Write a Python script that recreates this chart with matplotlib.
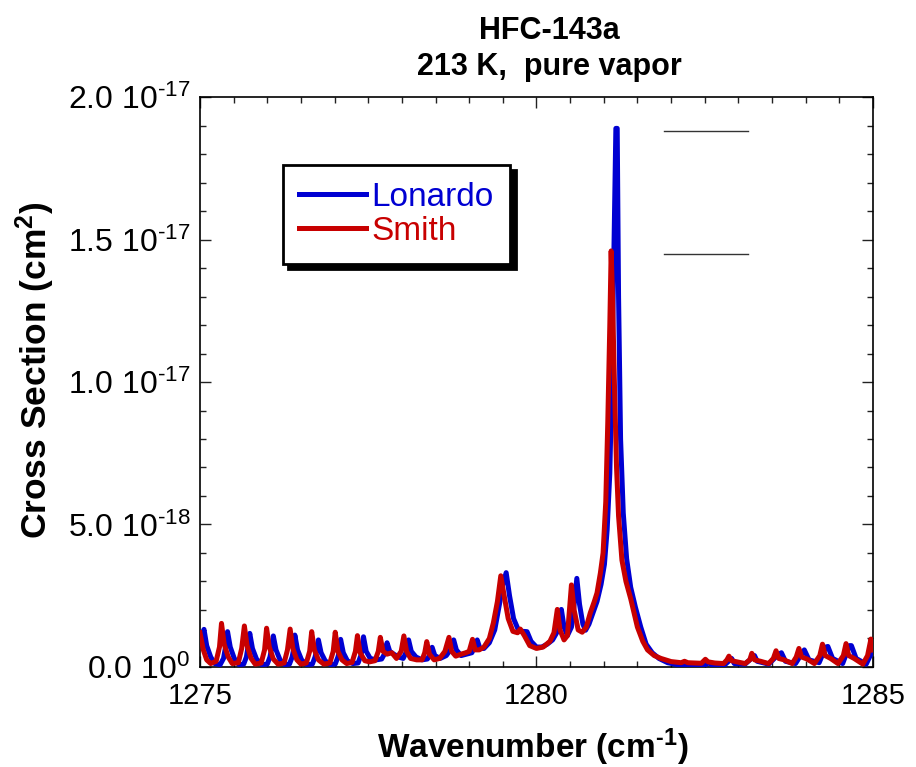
import numpy as np
import matplotlib
matplotlib.use("Agg")
import matplotlib.pyplot as plt
from matplotlib.ticker import MultipleLocator, FixedLocator, FixedFormatter

# ---------------- data (cross section in units of 1e-18 cm^2) ----------------
lonardo_x = [
    1275.00, 1275.03, 1275.06, 1275.10, 1275.16, 1275.22, 1275.30, 1275.35, 1275.38, 1275.41,
    1275.45, 1275.51, 1275.58, 1275.65, 1275.69, 1275.71, 1275.74, 1275.78, 1275.84, 1275.92,
    1276.00, 1276.04, 1276.06, 1276.09, 1276.13, 1276.19, 1276.26, 1276.33, 1276.37, 1276.39,
    1276.41, 1276.45, 1276.51, 1276.59, 1276.67, 1276.71, 1276.73, 1276.76, 1276.80, 1276.86,
    1276.94, 1277.01, 1277.05, 1277.07, 1277.09, 1277.13, 1277.19, 1277.27, 1277.35, 1277.39,
    1277.41, 1277.43, 1277.47, 1277.53, 1277.62, 1277.70, 1277.74, 1277.78, 1277.82, 1277.88,
    1277.95, 1278.02, 1278.06, 1278.10, 1278.14, 1278.21, 1278.30, 1278.38, 1278.42, 1278.45,
    1278.49, 1278.57, 1278.66, 1278.72, 1278.77, 1278.81, 1278.88, 1278.96, 1279.04, 1279.08,
    1279.12, 1279.16, 1279.22, 1279.30, 1279.38, 1279.45, 1279.50, 1279.55, 1279.60, 1279.66,
    1279.74, 1279.80, 1279.86, 1279.92, 1280.00, 1280.08, 1280.16, 1280.24, 1280.30, 1280.34,
    1280.37, 1280.41, 1280.46, 1280.52, 1280.56, 1280.60, 1280.64, 1280.69, 1280.73, 1280.78,
    1280.84, 1280.90, 1280.96, 1281.01, 1281.05, 1281.09, 1281.12, 1281.15, 1281.18, 1281.20,
    1281.22, 1281.25, 1281.29, 1281.34, 1281.40, 1281.47, 1281.55, 1281.63, 1281.72, 1281.82,
    1281.95, 1282.10, 1282.30, 1282.50, 1282.56, 1282.60, 1282.80, 1282.90, 1282.94, 1283.10,
    1283.24, 1283.28, 1283.45, 1283.60, 1283.64, 1283.70, 1283.85, 1283.95, 1283.98, 1284.05,
    1284.20, 1284.30, 1284.33, 1284.40, 1284.55, 1284.65, 1284.68, 1284.75, 1284.90, 1285.00,
]
lonardo_y = [
    0.90, 1.10, 1.32, 0.75, 0.35, 0.12, 0.08, 0.30, 0.70, 1.24,
    0.70, 0.30, 0.08, 0.10, 0.35, 0.65, 1.18, 0.65, 0.28, 0.08,
    0.10, 0.35, 0.60, 1.09, 0.60, 0.25, 0.08, 0.10, 0.35, 0.60,
    1.12, 0.60, 0.25, 0.08, 0.10, 0.35, 0.55, 0.95, 0.50, 0.22,
    0.08, 0.10, 0.35, 0.55, 0.97, 0.50, 0.22, 0.12, 0.14, 0.40,
    0.60, 1.06, 0.55, 0.30, 0.25, 0.28, 0.45, 0.85, 0.55, 0.45,
    0.35, 0.30, 0.50, 0.95, 0.55, 0.35, 0.25, 0.28, 0.45, 0.69,
    0.40, 0.30, 0.40, 0.60, 0.95, 0.60, 0.40, 0.45, 0.50, 0.70,
    0.95, 0.65, 0.65, 0.85, 1.30, 2.20, 2.90, 3.31, 2.50, 1.70,
    1.25, 1.25, 1.24, 0.90, 0.70, 0.70, 0.80, 0.95, 1.20, 1.70,
    2.02, 1.40, 1.10, 1.40, 2.20, 3.11, 2.20, 1.50, 1.29, 1.50,
    1.90, 2.30, 2.90, 3.60, 4.80, 6.80, 10.0, 14.5, 18.9, 18.9,
    13.0, 8.00, 5.40, 3.80, 2.80, 2.10, 1.40, 0.80, 0.50, 0.30,
    0.15, 0.08, 0.06, 0.06, 0.15, 0.08, 0.08, 0.30, 0.12, 0.10,
    0.40, 0.20, 0.10, 0.45, 0.50, 0.20, 0.12, 0.50, 0.60, 0.25,
    0.15, 0.70, 0.72, 0.30, 0.12, 0.75, 0.75, 0.30, 0.10, 0.60,
]

smith_x = [
    1275.00, 1275.05, 1275.10, 1275.16, 1275.24, 1275.29, 1275.32, 1275.36, 1275.42, 1275.48,
    1275.57, 1275.62, 1275.66, 1275.70, 1275.76, 1275.82, 1275.91, 1275.96, 1275.99, 1276.03,
    1276.09, 1276.16, 1276.25, 1276.30, 1276.34, 1276.38, 1276.44, 1276.50, 1276.58, 1276.63,
    1276.66, 1276.70, 1276.76, 1276.84, 1276.93, 1276.98, 1277.01, 1277.05, 1277.11, 1277.18,
    1277.26, 1277.31, 1277.34, 1277.38, 1277.45, 1277.52, 1277.60, 1277.65, 1277.68, 1277.72,
    1277.78, 1277.85, 1277.92, 1277.99, 1278.03, 1278.07, 1278.13, 1278.22, 1278.30, 1278.34,
    1278.37, 1278.41, 1278.48, 1278.56, 1278.64, 1278.70, 1278.74, 1278.80, 1278.88, 1278.95,
    1279.00, 1279.05, 1279.09, 1279.15, 1279.22, 1279.30, 1279.36, 1279.42, 1279.47, 1279.52,
    1279.58, 1279.65, 1279.72, 1279.76, 1279.82, 1279.90, 1280.00, 1280.10, 1280.20, 1280.26,
    1280.31, 1280.35, 1280.41, 1280.46, 1280.52, 1280.56, 1280.62, 1280.68, 1280.74, 1280.80,
    1280.86, 1280.90, 1280.95, 1280.99, 1281.03, 1281.06, 1281.09, 1281.11, 1281.13, 1281.16,
    1281.19, 1281.22, 1281.27, 1281.33, 1281.40, 1281.50, 1281.58, 1281.65, 1281.75, 1281.85,
    1282.00, 1282.15, 1282.20, 1282.25, 1282.45, 1282.51, 1282.55, 1282.65, 1282.78, 1282.83,
    1282.86, 1282.90, 1282.98, 1283.10, 1283.17, 1283.20, 1283.24, 1283.33, 1283.45, 1283.52,
    1283.56, 1283.60, 1283.68, 1283.80, 1283.86, 1283.90, 1283.94, 1284.02, 1284.13, 1284.21,
    1284.25, 1284.29, 1284.37, 1284.48, 1284.56, 1284.60, 1284.64, 1284.72, 1284.85, 1284.92,
    1284.97, 1285.00,
]
smith_y = [
    1.20, 0.60, 0.25, 0.12, 0.20, 0.70, 1.53, 0.80, 0.35, 0.12,
    0.15, 0.65, 1.44, 0.75, 0.30, 0.10, 0.14, 0.60, 1.36, 0.70,
    0.28, 0.10, 0.14, 0.60, 1.33, 0.65, 0.25, 0.10, 0.14, 0.55,
    1.24, 0.60, 0.25, 0.10, 0.14, 0.55, 1.22, 0.55, 0.25, 0.12,
    0.16, 0.55, 1.10, 0.50, 0.22, 0.18, 0.22, 0.55, 1.04, 0.55,
    0.45, 0.50, 0.30, 0.55, 1.09, 0.55, 0.30, 0.25, 0.25, 0.50,
    0.89, 0.45, 0.25, 0.30, 0.55, 1.04, 0.55, 0.38, 0.45, 0.50,
    0.55, 0.97, 0.60, 0.60, 0.70, 1.00, 1.55, 2.30, 3.20, 2.50,
    1.70, 1.25, 1.20, 1.33, 1.10, 0.75, 0.65, 0.70, 0.90, 1.20,
    2.02, 1.30, 0.95, 1.10, 2.88, 2.00, 1.30, 1.22, 1.40, 1.90,
    2.30, 2.60, 3.30, 4.00, 5.80, 8.60, 12.0, 14.6, 13.0, 9.80,
    7.00, 5.30, 3.75, 3.00, 2.40, 1.40, 0.90, 0.60, 0.40, 0.30,
    0.19, 0.15, 0.20, 0.15, 0.13, 0.27, 0.18, 0.14, 0.12, 0.25,
    0.38, 0.22, 0.18, 0.12, 0.25, 0.48, 0.25, 0.20, 0.12, 0.30,
    0.57, 0.30, 0.25, 0.12, 0.35, 0.65, 0.35, 0.28, 0.12, 0.40,
    0.80, 0.40, 0.30, 0.12, 0.40, 0.82, 0.40, 0.30, 0.10, 0.40,
    0.98, 0.60,
]

series_names = ["Lonardo", "Smith"]
series_colors = ["#0000d2", "#c80000"]

# two short reference lines drawn in the upper right of the plot
ref_line_x = [1281.90, 1283.15]
ref_line_levels = [18.8, 14.5]

HY = "\u2010"  # typographic hyphen for the exponents, as in the original
x_tick_values = [1275, 1280, 1285]
x_tick_labels = ["1275", "1280", "1285"]
y_tick_values = [0.0, 5.0e-18, 1.0e-17, 1.5e-17, 2.0e-17]
y_tick_labels = [r"0.0 10$^{0}$", r"5.0 10$^{" + HY + "18}$", r"1.0 10$^{" + HY + "17}$",
                 r"1.5 10$^{" + HY + "17}$", r"2.0 10$^{" + HY + "17}$"]
title_text = "HFC-143a\n213 K,  pure vapor"
scale = 1e-18

# ---------------- styling ----------------
plt.rcParams['font.family'] = ['Liberation Sans', 'DejaVu Sans']
plt.rcParams['mathtext.fontset'] = 'custom'
plt.rcParams['mathtext.rm'] = 'Liberation Sans'
plt.rcParams['mathtext.it'] = 'Liberation Sans'
plt.rcParams['mathtext.bf'] = 'Liberation Sans:bold'
plt.rcParams['mathtext.default'] = 'regular'

fig = plt.figure(figsize=(9.16, 7.67), dpi=100)
ax = fig.add_axes([0.2183, 0.1304, 0.7347, 0.7431])

ax.plot(lonardo_x, np.array(lonardo_y) * scale, color=series_colors[0], lw=3.6,
        label=series_names[0], solid_joinstyle='round', zorder=3)
ax.plot(smith_x, np.array(smith_y) * scale, color=series_colors[1], lw=3.6,
        label=series_names[1], solid_joinstyle='round', zorder=4)

for lvl in ref_line_levels:
    ax.plot(ref_line_x, [lvl * scale, lvl * scale], color='#333333', lw=1.0, zorder=2)

ax.set_xlim(1275, 1285)
ax.set_ylim(0, 2.0e-17)

ax.xaxis.set_major_locator(FixedLocator(x_tick_values))
ax.xaxis.set_major_formatter(FixedFormatter(x_tick_labels))
ax.xaxis.set_minor_locator(MultipleLocator(0.5))
ax.yaxis.set_major_locator(FixedLocator(y_tick_values))
ax.yaxis.set_major_formatter(FixedFormatter(y_tick_labels))
ax.yaxis.set_minor_locator(MultipleLocator(1.0e-18))

ax.tick_params(which='both', direction='in', top=True, right=True, width=1.0, color='#222222')
ax.tick_params(which='major', length=8)
ax.tick_params(which='minor', length=4.3)
ax.tick_params(axis='x', which='major', labelsize=21, pad=11)
ax.tick_params(axis='y', which='major', labelsize=23, pad=7)
for s in ax.spines.values():
    s.set_linewidth(1.2)

ax.set_xlabel(r"Wavenumber (cm$^{\mathbf{" + HY + "1}}$)", fontsize=24, fontweight='bold')
ax.set_ylabel(r"Cross Section (cm$^{\mathbf{2}}$)", fontsize=25.5, fontweight='bold')
ax.yaxis.set_label_coords(-0.212, 0.521)
ax.xaxis.set_label_coords(0.495, -0.104)

fig.text(0.600, 0.979, title_text, ha='center', va='top', fontsize=22,
         fontweight='bold', linespacing=1.25)

leg = ax.legend(loc='upper left', bbox_to_anchor=(0.123, 0.881), borderaxespad=0,
                fontsize=24, frameon=True, fancybox=False, edgecolor='black',
                framealpha=1, handlelength=2.0, handletextpad=0.15,
                borderpad=0.5, labelspacing=0.1, labelcolor='linecolor',
                shadow={'color': 'black', 'alpha': 1, 'ox': 4, 'oy': -4})
leg.get_frame().set_linewidth(2.0)
for h in leg.get_lines():
    h.set_linewidth(3.6)

fig.savefig("out.png", dpi=100)
